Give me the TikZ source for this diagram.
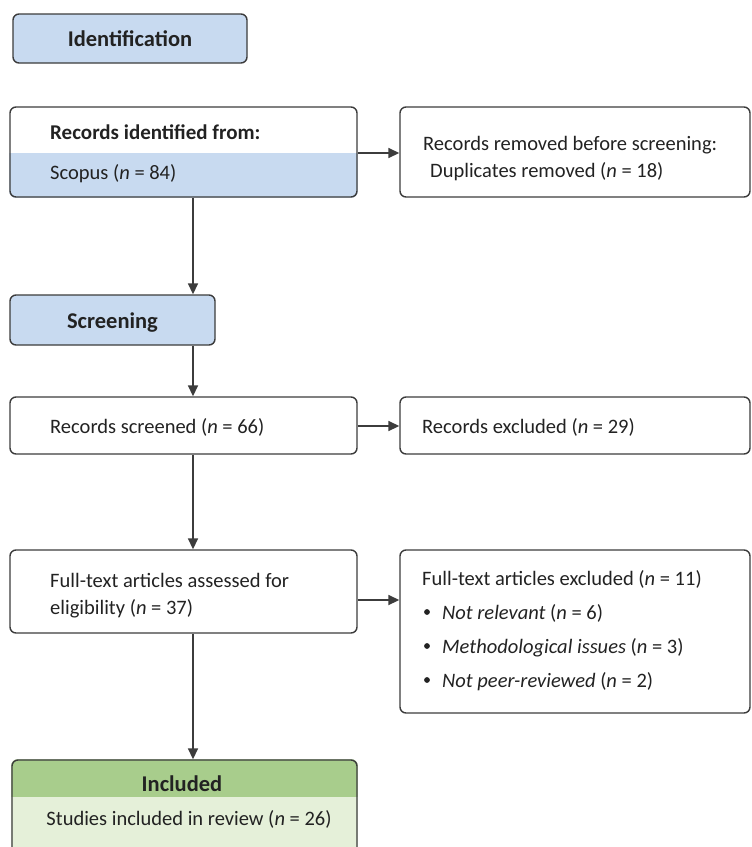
\documentclass[tikz,border=0pt]{standalone}
\usepackage{fontspec}
\setmainfont{Carlito}
\usetikzlibrary{arrows.meta,backgrounds}

\definecolor{edge}{HTML}{3C3C3C}
\definecolor{ink}{HTML}{222222}
\definecolor{stageblue}{HTML}{C8DAF0}
\definecolor{incdark}{HTML}{A8CD8C}
\definecolor{inclight}{HTML}{E5F0D9}

\tikzset{
  box/.style={draw=edge, line width=1.4pt, rounded corners=6pt, inner sep=0pt},
  stagebox/.style={box, fill=stageblue},
  label/.style={inner sep=0pt, anchor=base west, text=ink, font=\fontsize{20.5}{23}\selectfont},
  headlabel/.style={inner sep=0pt, anchor=base, text=ink, font=\fontsize{22.5}{25}\selectfont\bfseries},
  flow/.style={draw=edge, line width=1.7pt, -{Triangle[length=11pt,width=10pt]}},
}

\begin{document}
\begin{tikzpicture}[x=1pt,y=-1pt]
\useasboundingbox (0,0) rectangle (752,847);

% stage labels
\node[stagebox, minimum width=234pt, minimum height=49pt] (ident) at (130,38.5) {};
\node[headlabel] (identtxt) at (130,46) {Identification};

\node[stagebox, minimum width=205pt, minimum height=50pt] (scr) at (112.5,320) {};
\node[headlabel] (scrtxt) at (112.5,328) {Screening};

% identification
\node[box, minimum width=347pt, minimum height=90pt] (rid) at (183.5,152) {};
\node[label, font=\fontsize{21}{23}\selectfont\bfseries] (ridA) at (50,139) {Records identified from:};
\node[label] (ridB) at (50,179) {Scopus (\textit{n} = 84)};

\node[box, minimum width=350pt, minimum height=90pt] (rem) at (575,152) {};
\node[label] (remA) at (423,150) {Records removed before screening:};
\node[label] (remB) at (430,177) {Duplicates removed (\textit{n} = 18)};

% screening
\node[box, minimum width=347pt, minimum height=57pt] (rs) at (183.5,425.5) {};
\node[label] (rsA) at (50,433) {Records screened (\textit{n} = 66)};

\node[box, minimum width=350pt, minimum height=57pt] (rex) at (575,425.5) {};
\node[label] (rexA) at (422,433) {Records excluded (\textit{n} = 29)};

% eligibility
\node[box, minimum width=347pt, minimum height=83pt] (ft) at (183.5,591.5) {};
\node[label] (ftA) at (50,587) {Full-text articles assessed for};
\node[label] (ftB) at (50,614) {eligibility (\textit{n} = 37)};

\node[box, minimum width=350pt, minimum height=163pt] (fex) at (575,631.5) {};
\node[label] (fexA) at (422,585) {Full-text articles excluded (\textit{n} = 11)};
\foreach \yy/\txt [count=\k] in {619/{\textit{Not relevant} (\textit{n} = 6)},
                                 653/{\textit{Methodological issues} (\textit{n} = 3)},
                                 687/{\textit{Not peer-reviewed} (\textit{n} = 2)}}{
  \fill[ink] (427,\yy-7) circle (2.9pt);
  \node[label] (fexB\k) at (442,\yy) {\txt};
}

% included
\node[box, minimum width=345pt, minimum height=110pt] (inc) at (184.5,815) {};
\node[headlabel] (inctxt) at (182,791) {Included};
\node[label, anchor=base] (incA) at (189,825) {Studies included in review (\textit{n} = 26)};

% two-tone fills behind the boxes
\begin{scope}[on background layer]
  \begin{scope}
    \clip[rounded corners=6pt] (rid.north west) rectangle (rid.south east);
    \fill[stageblue] (rid.south west) rectangle (rid.east |- 0,153);
  \end{scope}
  \begin{scope}
    \clip[rounded corners=6pt] (inc.north west) rectangle (inc.south east);
    \fill[inclight] (inc.south west) rectangle (inc.east |- 0,797);
    \fill[incdark] (inc.north west) rectangle (inc.east |- 0,797);
  \end{scope}
\end{scope}

% connectors
\coordinate (trunk) at (193,0);
\draw[flow] (rid.east |- 0,153) -- (rem.west |- 0,153);
\draw[flow] (trunk |- rid.south) -- (trunk |- scr.north);
\draw[flow] (trunk |- scr.south) -- (trunk |- rs.north);
\draw[flow] (rs.east |- 0,426) -- (rex.west |- 0,426);
\draw[flow] (trunk |- rs.south) -- (trunk |- ft.north);
\draw[flow] (ft.east |- 0,600) -- (fex.west |- 0,600);
\draw[flow] (trunk |- ft.south) -- (trunk |- inc.north);
\end{tikzpicture}
\end{document}
